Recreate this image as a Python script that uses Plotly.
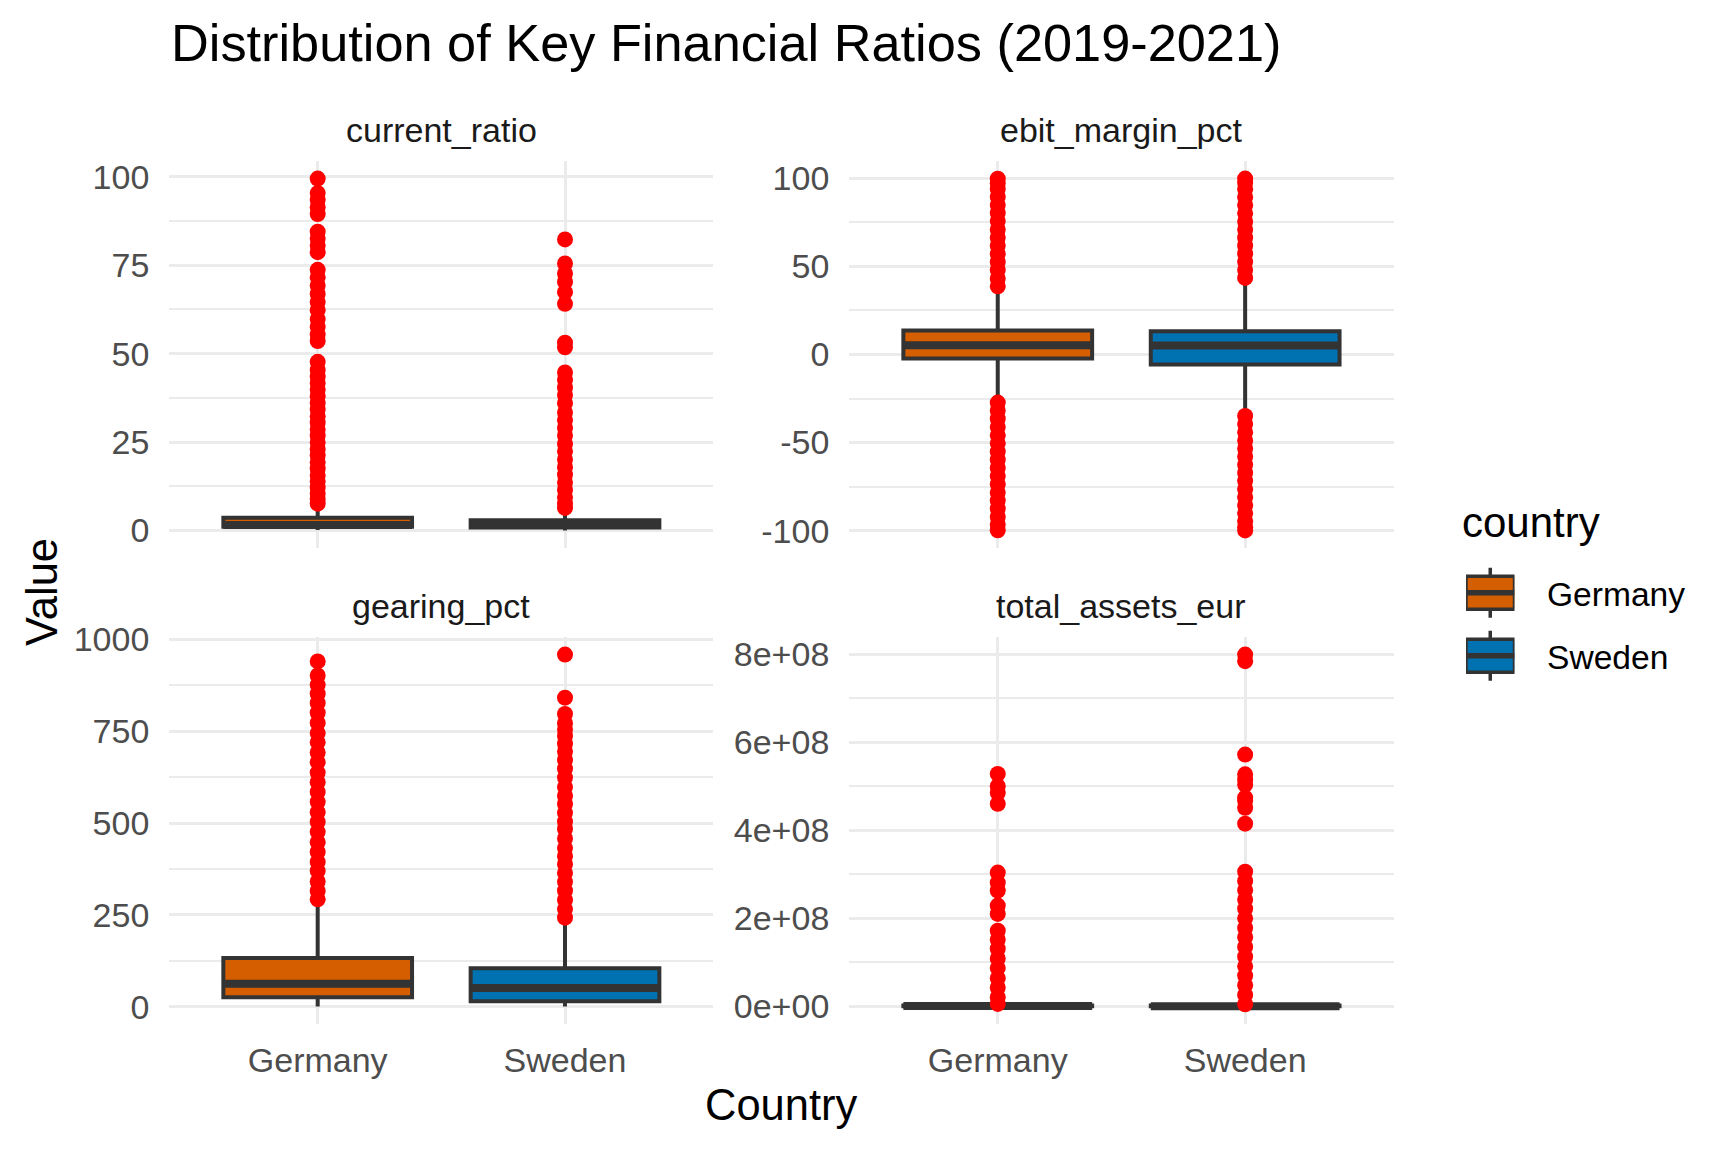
import plotly.graph_objects as go

FONT = "Liberation Sans, Arial, sans-serif"

countries = ["Germany", "Sweden"]
box_colors = ["#D55E00", "#0072B2"]
metrics = ["current_ratio", "ebit_margin_pct", "gearing_pct", "total_assets_eur"]

# ---- box statistics per metric: [Germany, Sweden] ----
cr_q1 = [1.1, 0.85]
cr_median = [1.6, 1.7]
cr_q3 = [3.6, 2.95]
cr_low = [0.2, 0.05]
cr_high = [7.2, 6.1]

ebit_q1 = [-2.3, -5.7]
ebit_median = [5.2, 5.1]
ebit_q3 = [13.6, 13.1]
ebit_low = [-24.6, -34.1]
ebit_high = [36.9, 40.7]

gear_q1 = [26.0, 15.0]
gear_median = [62.8, 51.4]
gear_q3 = [132.5, 105.0]
gear_low = [1.0, 1.0]
gear_high = [284.0, 234.0]

ta_q1 = [2.0e5, 1.5e5]
ta_median = [8.0e5, 6.0e5]
ta_q3 = [2.3e6, 1.9e6]
ta_low = [0.0, 0.0]
ta_high = [5.4e6, 4.5e6]

# ---- outliers ----
cr_out_de = [7.6, 8.9, 10.4, 12.1, 13.9, 15.6, 17.5, 19.3, 21.2, 23.0, 24.9, 26.8, 28.6,
             30.5, 32.3, 34.2, 36.1, 38.0, 39.8, 41.7, 43.5, 45.4, 47.7, 53.6, 55.4, 57.6,
             59.8, 62.3, 64.6, 66.9, 69.3, 71.6, 73.7, 78.7, 80.6, 82.6, 84.5, 89.5, 91.4,
             93.5, 95.4, 99.5]
cr_out_se = [6.4, 7.6, 9.4, 11.5, 13.6, 15.8, 17.9, 20.1, 22.4, 24.5, 26.9, 29.0, 31.2,
             33.4, 36.0, 38.3, 40.4, 42.6, 44.7, 51.8, 53.1, 64.1, 67.4, 70.3, 72.7, 75.5,
             82.3]

ebit_out_de = [38.6, 43.1, 47.9, 52.4, 57.0, 61.8, 66.3, 70.9, 75.6, 80.2, 84.7, 89.3,
               93.8, 97.1, 99.6, -27.3, -31.8, -36.5, -41.2, -45.9, -50.4, -55.1, -59.7,
               -64.4, -69.0, -73.6, -78.3, -82.9, -87.5, -92.2, -96.4, -99.7]
ebit_out_se = [43.4, 47.8, 52.5, 57.1, 61.6, 66.2, 70.9, 75.4, 80.0, 84.6, 89.1, 93.7,
               97.3, 99.7, -34.9, -39.5, -44.2, -48.8, -53.3, -57.9, -62.6, -67.2, -71.7,
               -76.4, -81.0, -85.5, -90.1, -94.6, -98.0, -99.8]

gear_out_de = [292.6, 315.4, 341.0, 369.8, 394.2, 421.5, 447.9, 476.3, 503.1, 529.6, 558.0,
               584.7, 611.2, 637.5, 665.9, 692.3, 719.8, 745.1, 772.6, 800.4, 826.9, 852.3,
               876.5, 901.8, 940.2]
gear_out_se = [242.5, 266.0, 291.0, 316.0, 340.0, 364.0, 388.0, 410.0, 432.0, 458.0, 484.0,
               504.0, 528.0, 552.0, 574.0, 598.0, 624.0, 648.0, 672.0, 695.0, 716.0, 737.0,
               755.0, 772.0, 797.0, 841.5, 958.7]

ta_out_de = [5.6e6, 2.1e7, 4.3e7, 6.4e7, 8.7e7, 1.09e8, 1.31e8, 1.52e8, 1.72e8, 2.10e8,
             2.29e8, 2.63e8, 2.81e8, 3.04e8, 4.60e8, 4.85e8, 5.00e8, 5.28e8]
ta_out_se = [4.9e6, 2.6e7, 4.8e7, 7.0e7, 9.1e7, 1.13e8, 1.35e8, 1.57e8, 1.78e8, 2.00e8,
             2.22e8, 2.43e8, 2.64e8, 2.85e8, 3.06e8, 4.15e8, 4.51e8, 4.67e8, 4.74e8,
             5.04e8, 5.15e8, 5.27e8, 5.72e8, 7.84e8, 7.99e8]

# ---- tick labels ----
cr_ticks = [0, 25, 50, 75, 100]
cr_minor = [12.5, 37.5, 62.5, 87.5]
ebit_ticks = [-100, -50, 0, 50, 100]
ebit_minor = [-75, -25, 25, 75]
gear_ticks = [0, 250, 500, 750, 1000]
gear_minor = [125, 375, 625, 875]
ta_ticks = [0, 2e8, 4e8, 6e8, 8e8]
ta_ticktext = ["0e+00", "2e+08", "4e+08", "6e+08", "8e+08"]
ta_minor = [1e8, 3e8, 5e8, 7e8]

panels = [
    dict(stats=(cr_q1, cr_median, cr_q3, cr_low, cr_high), out=(cr_out_de, cr_out_se),
         ticks=cr_ticks, ticktext=[str(t) for t in cr_ticks], minor=cr_minor),
    dict(stats=(ebit_q1, ebit_median, ebit_q3, ebit_low, ebit_high), out=(ebit_out_de, ebit_out_se),
         ticks=ebit_ticks, ticktext=[str(t) for t in ebit_ticks], minor=ebit_minor),
    dict(stats=(gear_q1, gear_median, gear_q3, gear_low, gear_high), out=(gear_out_de, gear_out_se),
         ticks=gear_ticks, ticktext=[str(t) for t in gear_ticks], minor=gear_minor),
    dict(stats=(ta_q1, ta_median, ta_q3, ta_low, ta_high), out=(ta_out_de, ta_out_se),
         ticks=ta_ticks, ticktext=ta_ticktext, minor=ta_minor),
]

# ---- page geometry (pixels) ----
W, H = 1728, 1152
OFF = 8  # page body margin compensation


def px_x(v):
    return (v - OFF) / W


def px_y(v):
    return 1 - (v - OFF) / H


x_domains = [[px_x(169.3), px_x(713.4)], [px_x(849.3), px_x(1393.6)]]
y_domains = [[px_y(548), px_y(161)], [px_y(1024), px_y(637)]]

BOX_W = 0.763
GRID = "#EBEBEB"
LINE = "#333333"
TICK_FONT = dict(family=FONT, size=34, color="#4D4D4D")

fig = go.Figure()
layout = dict()

for p, panel in enumerate(panels):
    row, col = divmod(p, 2)
    sfx = "" if p == 0 else str(p + 1)
    xa, ya = "x" + sfx, "y" + sfx
    q1, med, q3, lo, hi = panel["stats"]
    # outliers first (drawn beneath boxes)
    for c, name in enumerate(countries):
        vals = panel["out"][c]
        fig.add_trace(go.Scatter(
            x=[name] * len(vals), y=vals, mode="markers",
            marker=dict(color="#FF0000", size=16, line=dict(width=0)),
            showlegend=False, hoverinfo="y", xaxis=xa, yaxis=ya))
    for c, name in enumerate(countries):
        fig.add_trace(go.Box(
            x=[name], q1=[q1[c]], median=[med[c]], q3=[q3[c]],
            lowerfence=[lo[c]], upperfence=[hi[c]],
            name=name, legendgroup=name, showlegend=False,
            width=BOX_W, whiskerwidth=0, boxpoints=False,
            fillcolor=box_colors[c], line=dict(color=LINE, width=4),
            xaxis=xa, yaxis=ya))
        # thicker median line (ggplot style)
        fig.add_trace(go.Box(
            x=[name], q1=[med[c]], median=[med[c]], q3=[med[c]],
            lowerfence=[med[c]], upperfence=[med[c]],
            showlegend=False, hoverinfo="skip", width=BOX_W, whiskerwidth=0,
            boxpoints=False, fillcolor="rgba(0,0,0,0)", line=dict(color=LINE, width=8),
            xaxis=xa, yaxis=ya))

    allv = list(lo) + list(hi) + list(panel["out"][0]) + list(panel["out"][1])
    vmin, vmax = min(allv), max(allv)
    pad = 0.05 * (vmax - vmin)

    layout["xaxis" + sfx] = dict(
        domain=x_domains[col], anchor=ya, type="category",
        categoryorder="array", categoryarray=countries, range=[-0.6, 1.6],
        showgrid=True, gridcolor=GRID, gridwidth=3.3, zeroline=False,
        showline=False, ticks="", showticklabels=(row == 1), automargin=False,
        tickfont=TICK_FONT, ticklabelstandoff=13, fixedrange=True)
    layout["yaxis" + sfx] = dict(
        domain=y_domains[row], anchor=xa, range=[vmin - pad, vmax + pad],
        tickmode="array", tickvals=panel["ticks"], ticktext=panel["ticktext"],
        showgrid=True, gridcolor=GRID, gridwidth=3.3, zeroline=False,
        showline=False, ticks="", automargin=False,
        minor=dict(tickvals=panel["minor"], showgrid=True, gridcolor=GRID, gridwidth=1.9, ticks=""),
        tickfont=TICK_FONT, ticklabelstandoff=19, fixedrange=True)

# ---- legend keys (ggplot-style box glyphs) ----
key_lower, key_q1, key_median, key_q3, key_upper = 0.0, 0.17, 0.5, 0.83, 1.0
key_centers = [592.7, 655.7]   # vertical centres of the keys (px)
key_half = 25.0
key_x = [1466.0, 1514.5]
for c, name in enumerate(countries):
    n = 5 + c
    xa, ya = "x%d" % n, "y%d" % n
    fig.add_trace(go.Box(
        x=[name], q1=[key_q1], median=[key_median], q3=[key_q3],
        lowerfence=[key_lower], upperfence=[key_upper], name=name,
        showlegend=False, hoverinfo="name", width=1.0, whiskerwidth=0, boxpoints=False,
        fillcolor=box_colors[c], line=dict(color=LINE, width=3.5), xaxis=xa, yaxis=ya))
    fig.add_trace(go.Box(
        x=[name], q1=[key_median], median=[key_median], q3=[key_median],
        lowerfence=[key_median], upperfence=[key_median],
        showlegend=False, hoverinfo="skip", width=1.0, whiskerwidth=0, boxpoints=False,
        fillcolor="rgba(0,0,0,0)", line=dict(color=LINE, width=5.5), xaxis=xa, yaxis=ya))
    yc = key_centers[c]
    layout["xaxis%d" % n] = dict(domain=[px_x(key_x[0]), px_x(key_x[1])], anchor=ya,
                                 type="category", range=[-0.5, 0.5], visible=False,
                                 automargin=False, fixedrange=True)
    layout["yaxis%d" % n] = dict(domain=[px_y(yc + key_half * 1.2), px_y(yc - key_half * 1.2)],
                                 anchor=xa, range=[-0.1, 1.1], visible=False,
                                 automargin=False, fixedrange=True)

annotations = []
for p, m in enumerate(metrics):
    row, col = divmod(p, 2)
    xc = sum(x_domains[col]) / 2
    yc = px_y(130 if row == 0 else 606)
    annotations.append(dict(text=m, x=xc, y=yc, xref="paper", yref="paper",
                            xanchor="center", yanchor="middle", showarrow=False,
                            font=dict(family=FONT, size=34, color="#1A1A1A")))
annotations.append(dict(text="Country", x=(x_domains[0][0] + x_domains[1][1]) / 2, y=px_y(1105),
                        xref="paper", yref="paper", xanchor="center", yanchor="middle",
                        showarrow=False, font=dict(family=FONT, size=43.5, color="#000000")))
annotations.append(dict(text="Value", x=px_x(42), y=px_y(592), textangle=-90,
                        xref="paper", yref="paper", xanchor="center", yanchor="middle",
                        showarrow=False, font=dict(family=FONT, size=43.5, color="#000000")))
# legend title and labels
annotations.append(dict(text="country", x=px_x(1459.5), y=px_y(522), xref="paper", yref="paper",
                        xanchor="left", yanchor="middle", showarrow=False,
                        font=dict(family=FONT, size=42, color="#000000")))
for c, name in enumerate(countries):
    annotations.append(dict(text=name, x=px_x(1545), y=px_y(key_centers[c] + 2), xref="paper",
                            yref="paper", xanchor="left", yanchor="middle", showarrow=False,
                            font=dict(family=FONT, size=33.6, color="#000000")))

fig.update_layout(
    width=W, height=H, autosize=False,
    margin=dict(l=0, r=0, t=0, b=0, pad=0, autoexpand=False),
    paper_bgcolor="white", plot_bgcolor="white",
    boxmode="overlay", showlegend=False,
    title=dict(text="Distribution of Key Financial Ratios (2019-2021)",
               x=px_x(171), xanchor="left", y=px_y(43), yanchor="middle",
               font=dict(family=FONT, size=52.3, color="#000000")),
    annotations=annotations,
    **layout,
)

fig.write_html("out.html")
